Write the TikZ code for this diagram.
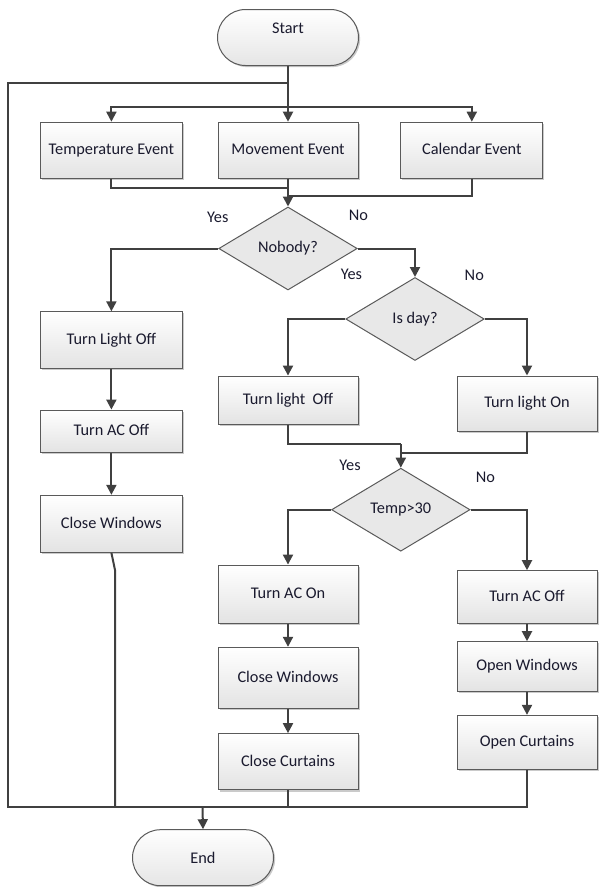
\documentclass[tikz,border=0pt]{standalone}
\usepackage{fontspec}
\setmainfont{Carlito}
\usetikzlibrary{shapes.geometric,shapes.misc,arrows.meta,shadows}
\definecolor{lc}{HTML}{404040}
\definecolor{bd}{HTML}{5A5A5A}
\definecolor{tx}{HTML}{1A1A2E}
\begin{document}
\begin{tikzpicture}[x=1pt,y=-1pt,
 font=\fontsize{16.3}{19}\selectfont, text=tx,
 shad/.style={drop shadow={shadow xshift=1.6pt, shadow yshift=-1.6pt, opacity=0.35, fill=black!60}},
 box/.style={rectangle, draw=bd, line width=1pt, top color=white, bottom color=black!11, inner sep=0pt, text height=11pt, text depth=2.5pt, shad},
 term/.style={rounded rectangle, draw=bd, line width=1pt, top color=white, bottom color=black!10, minimum width=141pt, minimum height=56pt, inner sep=0pt, shad},
 dec/.style={diamond, draw=bd, line width=1pt, fill=black!9, inner sep=0pt, minimum width=138.5pt, minimum height=83pt},
 conn/.style={draw=lc, line width=2pt},
 arw/.style={conn, -{Triangle[length=10pt,width=10pt]}},
 lab/.style={inner sep=0pt}
]
\useasboundingbox (0,0) rectangle (598,887);

% terminals
\node[term, text height=11.5pt, text depth=19.5pt] (start) at (288,37.5) {Start};
\node[term] (end) at (203,857.7) {End};

% events
\node[box, minimum width=142pt, minimum height=56pt] (temp) at (111.4,150.2) {Temperature Event};
\node[box, minimum width=140pt, minimum height=56pt] (move) at (288,150.2) {Movement Event};
\node[box, minimum width=142pt, minimum height=56pt] (cal) at (471.8,150.2) {Calendar Event};

% decisions
\node[dec] (nobody) at (288,248.5) {Nobody?};
\node[dec] (isday) at (415,319) {Is day?};
\node[dec] (t30) at (400.8,509.7) {Temp>30};

% left column
\node[box, minimum width=142pt, minimum height=56.3pt] (tlo) at (111.4,340) {Turn Light Off};
\node[box, minimum width=142pt, minimum height=42.3pt] (acoffL) at (111.4,431.2) {Turn AC Off};
\node[box, minimum width=142pt, minimum height=57pt] (cwinL) at (111.4,523.8) {Close Windows};

% middle column
\node[box, minimum width=140pt, minimum height=48.3pt] (tloff) at (288,400.2) {Turn light\ \ Off};
\node[box, minimum width=140pt, minimum height=58.3pt] (acon) at (288,594.2) {Turn AC On};
\node[box, minimum width=140pt, minimum height=61.4pt] (cwinM) at (288,678) {Close Windows};
\node[box, minimum width=140pt, minimum height=56.3pt] (ccurt) at (288,761.8) {Close Curtains};

% right column
\node[box, minimum width=140pt, minimum height=55pt] (tlon) at (527,403.5) {Turn light On};
\node[box, minimum width=140pt, minimum height=52.6pt] (acoffR) at (527,597) {Turn AC Off};
\node[box, minimum width=140pt, minimum height=50pt] (owin) at (527,666.7) {Open Windows};
\node[box, minimum width=140pt, minimum height=53.7pt] (ocurt) at (527,742.2) {Open Curtains};

% labels
\node[lab] (y1) at (217.8,217.3) {Yes};
\node[lab] (n1) at (358.5,215) {No};
\node[lab] (y2) at (351.4,274.3) {Yes};
\node[lab] (n2) at (474.3,275.7) {No};
\node[lab] (y3) at (350,465) {Yes};
\node[lab] (n3) at (485.5,477) {No};

% junction coordinates
\coordinate (jtop) at (288,82.7);
\coordinate (jleft) at (7.6,82.7);
\coordinate (jdist) at (288,107);
\coordinate (jbl) at (7.6,806.7);
\coordinate (jend) at (202.5,806.7);
\coordinate (mA) at (288,188.3);
\coordinate (mB) at (288,196);
\coordinate (mC) at (400.8,444.3);
\coordinate (mD) at (400.8,452.7);
\coordinate (lkink) at (115,570);

% connectors
\draw[arw] (start.south) -- (move.north);
\draw[arw] (jdist) -| (temp.north);
\draw[arw] (jdist) -| (cal.north);
\draw[conn] (jtop) -- (jleft) -- (jbl) -- (jend);
\draw[conn] (temp.south) |- (mA);
\draw[conn] (cal.south) |- (mB);
\draw[arw] (move.south) -- (nobody.north);

\draw[arw] (nobody.west) -| (tlo.north);
\draw[arw] (nobody.east) -| (isday.north);
\draw[arw] (tlo) -- (acoffL);
\draw[arw] (acoffL) -- (cwinL);
\draw[conn] (cwinL.south) -- (lkink) -- (lkink |- jend);

\draw[arw] (isday.west) -| (tloff.north);
\draw[arw] (isday.east) -| (tlon.north);
\draw[conn] (tloff.south) |- (mC);
\draw[conn] (tlon.south) |- (mD);
\draw[arw] (mC) -- (t30.north);

\draw[arw] (t30.west) -| (acon.north);
\draw[arw] (t30.east) -| (acoffR.north);
\draw[arw] (acon) -- (cwinM);
\draw[arw] (cwinM) -- (ccurt);
\draw[arw] (acoffR) -- (owin);
\draw[arw] (owin) -- (ocurt);
\draw[conn] (ccurt.south) -- (ccurt.south |- jend);
\draw[conn] (ocurt.south) |- (jend);
\draw[arw] (jend) -- (end.north);
\end{tikzpicture}
\end{document}
